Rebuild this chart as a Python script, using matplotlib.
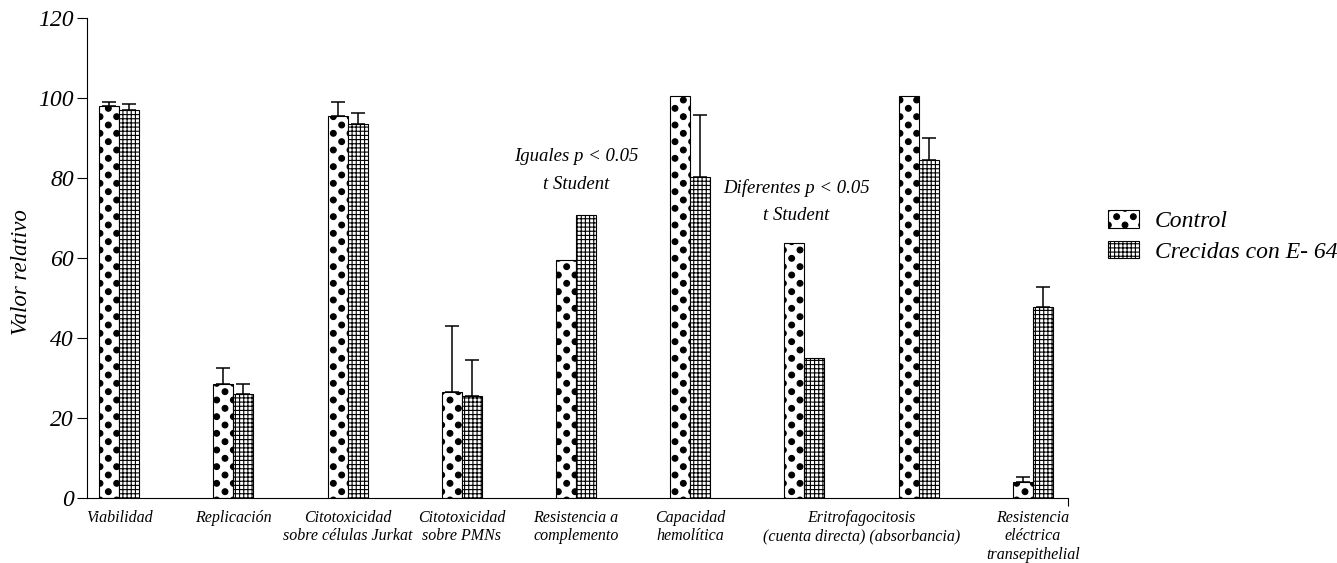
import numpy as np
import matplotlib

matplotlib.use("Agg")
import matplotlib.pyplot as plt
import matplotlib.hatch as mhatch
from matplotlib.path import Path
from matplotlib.patches import Patch


class StaggeredDots(mhatch.HatchPatternBase):
    """Filled dots; rows twice as dense as columns, odd rows shifted half a column."""

    radius = 0.029

    def __init__(self, hatch, density):
        self.cols = hatch.count(".") * density
        self.circle = Path.unit_circle()
        self.centres = self._centres() if self.cols else np.empty((0, 2))
        self.num_vertices = len(self.centres) * len(self.circle.vertices)

    def _centres(self):
        rows = 2 * self.cols
        pts = []
        for r in range(rows + 1):
            if r % 2 == 0:
                xs = np.arange(self.cols + 1) / self.cols
            else:
                xs = (np.arange(self.cols) + 0.5) / self.cols
            pts.extend((x, r / rows) for x in xs)
        return np.array(pts)

    def set_vertices_and_codes(self, vertices, codes):
        circ = self.circle.vertices * self.radius
        n = len(circ)
        for i, c in enumerate(self.centres):
            vertices[i * n:(i + 1) * n] = circ + c
            codes[i * n:(i + 1) * n] = self.circle.codes


mhatch._hatch_types[mhatch._hatch_types.index(mhatch.SmallFilledCircles)] = StaggeredDots

plt.rcParams["font.family"] = ["Liberation Serif", "DejaVu Serif"]
plt.rcParams["font.style"] = "italic"
plt.rcParams["hatch.linewidth"] = 0.8
plt.rcParams["hatch.color"] = "black"

# one entry per measured property
measures = ["viabilidad", "replicacion", "jurkat", "pmn", "complemento",
            "hemolisis", "eritro_directa", "eritro_absorbancia", "teer"]
control = [97.9, 28.5, 95.4, 26.4, 59.4, 100.5, 63.7, 100.5, 3.9]
control_err = [1.1, 3.8, 3.5, 16.5, None, None, None, None, 1.2]
e64 = [97.0, 25.8, 93.4, 25.5, 70.6, 80.2, 34.9, 84.4, 47.6]
e64_err = [1.4, 2.7, 2.7, 8.9, None, 15.4, None, 5.5, 5.0]

tick_labels = ["Viabilidad", "Replicación", "Citotoxicidad\nsobre células Jurkat",
               "Citotoxicidad\nsobre PMNs", "Resistencia a\ncomplemento",
               "Capacidad\nhemolítica", "Eritrofagocitosis\n(cuenta directa) (absorbancia)",
               "Resistencia\neléctrica\ntransepithelial"]
# which groups each tick label sits under
tick_groups = [[0], [1], [2], [3], [4], [5], [6, 7], [8]]

series_names = ["Control", "Crecidas con E- 64"]
hatches = [".", "++++"]

fig = plt.figure(figsize=(13.37, 5.63), dpi=100)
ax = fig.add_axes([0.0648, 0.1163, 0.7338, 0.8526])

x = np.arange(len(measures))
w = 0.175
for offset, vals, errs, hatch in [(-w / 2, control, control_err, hatches[0]),
                                  (w / 2, e64, e64_err, hatches[1])]:
    ax.bar(x + offset, vals, width=w, color="white", edgecolor="black",
           linewidth=0.8, hatch=hatch, zorder=2)
    idx = [i for i, e in enumerate(errs) if e is not None]
    ax.errorbar(x[idx] + offset, [vals[i] for i in idx],
                yerr=[[0] * len(idx), [errs[i] for i in idx]],
                fmt="none", ecolor="black", elinewidth=1.1, capsize=4.7,
                capthick=1.1, zorder=3)

ax.text(4, 85.2, "Iguales p < 0.05", ha="center", va="center", fontsize=13.5)
ax.text(4, 78.2, "t Student", ha="center", va="center", fontsize=13.5)
ax.text(5.93, 77.4, "Diferentes p < 0.05", ha="center", va="center", fontsize=13.5)
ax.text(5.93, 70.6, "t Student", ha="center", va="center", fontsize=13.5)

ax.set_xlim(-0.285, 8.305)
ax.set_ylim(0, 120)
ax.set_yticks(range(0, 121, 20))
ax.tick_params(axis="y", labelsize=17, length=7, width=0.8, direction="out", pad=2)
ax.set_xticks([np.mean(g) for g in tick_groups])
ax.set_xticklabels(tick_labels, fontsize=11.5, linespacing=1.2)
ax.tick_params(axis="x", length=0, pad=9)
ax.set_xticks([8.305], minor=True)
ax.tick_params(axis="x", which="minor", length=6, width=0.8)

for side in ("top", "right"):
    ax.spines[side].set_visible(False)
for side in ("left", "bottom"):
    ax.spines[side].set_linewidth(0.8)

ax.set_ylabel("Valor relativo", fontsize=16.5)
ax.yaxis.set_label_coords(-0.056, 0.47)

handles = [Patch(facecolor="white", edgecolor="black", linewidth=0.8, hatch=h)
           for h in hatches]
fig.legend(handles, series_names, loc="center left", bbox_to_anchor=(0.8287, 0.580),
           frameon=False, fontsize=17, handlelength=1.31, handleheight=0.76,
           handletextpad=0.68, labelspacing=0.35, borderpad=0, borderaxespad=0)

fig.savefig("out.png", dpi=100)
plt.close(fig)
